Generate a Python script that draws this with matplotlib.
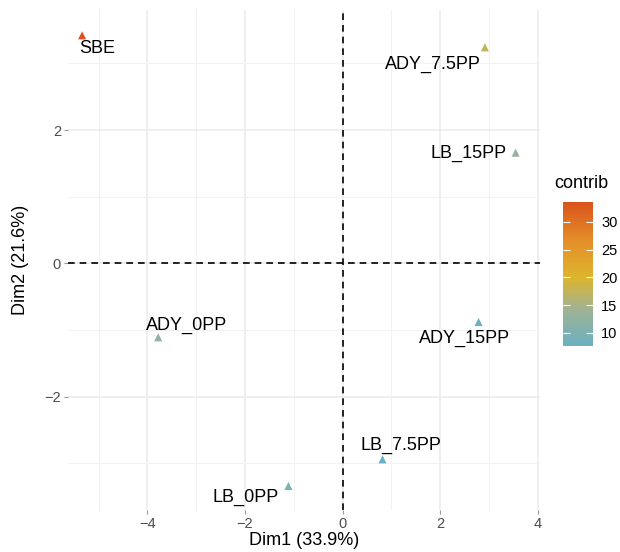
import numpy as np
import matplotlib
matplotlib.use("Agg")
import matplotlib.pyplot as plt
from matplotlib.colors import LinearSegmentedColormap, Normalize

plt.rcParams['font.family'] = ['Liberation Sans', 'DejaVu Sans']

# PCA individuals
names = ["SBE", "ADY_7.5PP", "LB_15PP", "ADY_15PP", "ADY_0PP", "LB_7.5PP", "LB_0PP"]
dim1 = [-5.34, 2.92, 3.55, 2.79, -3.78, 0.82, -1.11]
dim2 = [3.42, 3.24, 1.66, -0.88, -1.11, -2.94, -3.34]
contrib = [33.6, 17.5, 13.0, 7.9, 12.0, 7.6, 9.6]

# label offsets in pixels (ggrepel-like placement)
offsets = [(15, -13), (-52, -17), (-47, -1), (-14, -16), (28, 12), (18, 14), (-43, -11)]

cmap = LinearSegmentedColormap.from_list(
    "contrib",
    [(0.0, "#6AB1C1"), (0.25, "#9FB294"), (0.48, "#DDB52C"), (0.72, "#E4902A"), (1.0, "#DA531C")])
norm = Normalize(vmin=min(contrib), vmax=max(contrib))

fig = plt.figure(figsize=(6.2, 5.52), dpi=100)
ax = fig.add_axes([68 / 620, 42 / 552, 472 / 620, 500 / 552])

ax.set_xlim(-5.63, 4.05)
ax.set_ylim(-3.7, 3.8)
ax.set_xticks([-4, -2, 0, 2, 4])
ax.set_yticks([-2, 0, 2])
ax.set_xticks([-5, -3, -1, 1, 3], minor=True)
ax.set_yticks([-3, -1, 1, 3], minor=True)
ax.set_xticklabels(["\u22124", "\u22122", "0", "2", "4"])
ax.set_yticklabels(["\u22122", "0", "2"])
ax.grid(True, which="major", color="#EBEBEB", lw=1.1)
ax.grid(True, which="minor", color="#F2F2F2", lw=0.8)
ax.set_axisbelow(True)
for s in ax.spines.values():
    s.set_visible(False)
ax.tick_params(which="major", length=3, color="#999999", labelsize=10.5, labelcolor="#4D4D4D", pad=2)
ax.tick_params(which="minor", length=0)

ax.axhline(0, color="black", ls=(0, (4, 3)), lw=1.2, zorder=1)
ax.axvline(0, color="black", ls=(0, (4, 3)), lw=1.2, zorder=1)

ax.scatter(dim1, dim2, c=contrib, cmap=cmap, norm=norm, marker="^", s=34, zorder=3, linewidths=0)
for n, x, y, (dx, dy) in zip(names, dim1, dim2, offsets):
    ax.annotate(n, (x, y), xytext=(dx, dy), textcoords="offset pixels",
                ha="center", va="center", fontsize=13, color="black", zorder=4)

ax.set_xlabel("Dim1 (33.9%)", fontsize=13, labelpad=1)
ax.set_ylabel("Dim2 (21.6%)", fontsize=13, labelpad=11)

cax = fig.add_axes([563 / 620, 206 / 552, 30 / 620, 144 / 552])
sm = plt.cm.ScalarMappable(cmap=cmap, norm=norm)
cb = fig.colorbar(sm, cax=cax, ticks=[10, 15, 20, 25, 30])
cb.outline.set_visible(False)
cax.tick_params(direction="in", color="white", length=5, width=0.8, left=True, right=True,
                labelsize=10.5, labelcolor="black", pad=6)
cax.set_title("contrib", fontsize=13, loc="left", pad=10, x=-0.3)

fig.savefig("out.png", dpi=100)
